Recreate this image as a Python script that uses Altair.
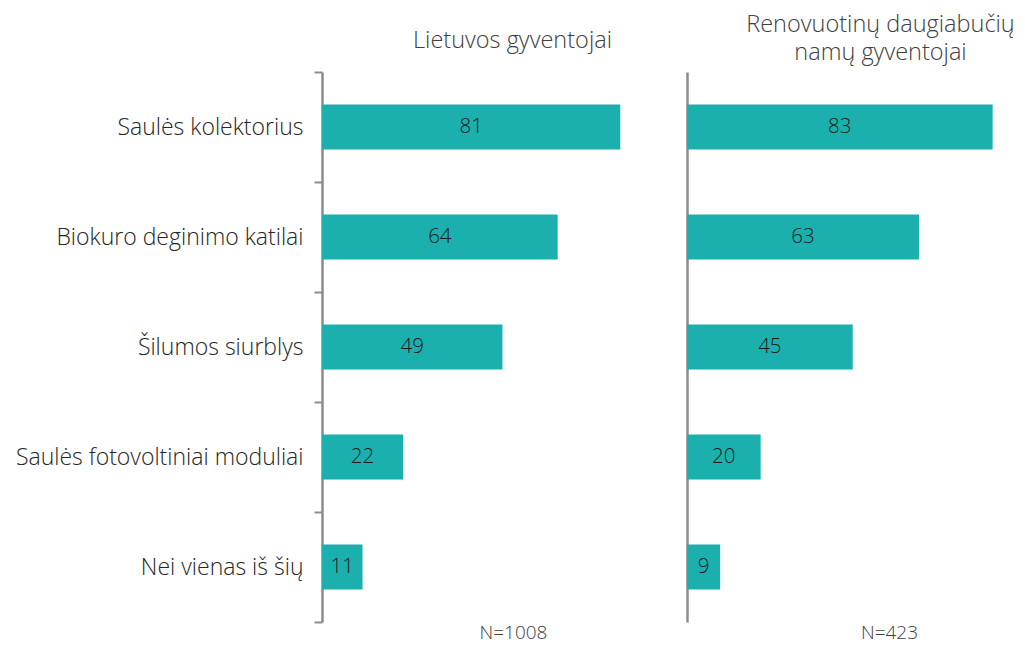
import altair as alt
import pandas as pd

categories = [
    "Saulės kolektorius",
    "Biokuro deginimo katilai",
    "Šilumos siurblys",
    "Saulės fotovoltiniai moduliai",
    "Nei vienas iš šių",
]
lt_values = [81, 64, 49, 22, 11]
ren_values = [83, 63, 45, 20, 9]

titles = [["Lietuvos gyventojai"], ["Renovuotinų daugiabučių", "namų gyventojai"]]
n_labels = ["N=1008", "N=423"]

FONT = "Open Sans"
BAR = "#1BB0AE"
AXIS = "#8C8C8C"
TXT = "#404040"
W = 313
H = 550


def panel(values, title, n_label, show_labels, title_dx, title_offset, n_x):
    df = pd.DataFrame({"cat": categories, "val": values})
    y_axis = alt.Axis(
        title=None,
        labels=show_labels,
        ticks=show_labels,
        tickBand="extent",
        tickSize=8,
        tickWidth=2,
        tickColor=AXIS,
        domainColor=AXIS,
        domainWidth=2.5,
        labelFont=FONT,
        labelFontSize=23,
        labelFontWeight=300,
        labelColor="#262626",
        labelPadding=11,
        grid=False,
        labelLimit=400,
    )
    x_axis = alt.Axis(
        title=n_label,
        labels=False,
        ticks=False,
        domain=False,
        grid=False,
        titleFont=FONT,
        titleFontSize=19,
        titleFontWeight=300,
        titleColor=TXT,
        titleX=n_x,
        titleY=10,
        titleBaseline="middle",
        titleAlign="center",
        titleAnchor=None,
    )
    ysc = alt.Scale(paddingInner=0, paddingOuter=0)
    base = alt.Chart(df).encode(
        y=alt.Y("cat:N", sort=categories, axis=y_axis, scale=ysc),
        x=alt.X("val:Q", axis=x_axis, scale=alt.Scale(domain=[0, 85], nice=False)),
    )
    bars = base.mark_bar(color=BAR, size=45)
    labels = alt.Chart(df).mark_text(
        font=FONT, fontSize=20.5, fontWeight=300, color="#1a1a1a", baseline="middle", align="center"
    ).transform_calculate(mid="datum.val / 2").encode(
        y=alt.Y("cat:N", sort=categories, scale=ysc),
        x=alt.X("mid:Q"),
        text=alt.Text("val:Q"),
    )
    return alt.layer(bars, labels).properties(
        width=W,
        height=H,
        title=alt.TitleParams(
            text=title,
            font=FONT,
            fontSize=23.5,
            fontWeight=300,
            color=TXT,
            anchor="middle",
            dx=title_dx,
            offset=title_offset,
            lineHeight=28,
        ),
    )


left = panel(lt_values, titles[0], n_labels[0], True, 34, 9, 191)
right = panel(ren_values, titles[1], n_labels[1], False, 37, 8, 202)

chart = (
    alt.hconcat(left, right, spacing=52, bounds="flush")
    .properties(background="white", padding={"left": 7, "top": 4, "right": 0, "bottom": 1})
    .configure_view(stroke=None)
)

chart.save("out.html", embed_options={"renderer": "svg", "actions": False})
